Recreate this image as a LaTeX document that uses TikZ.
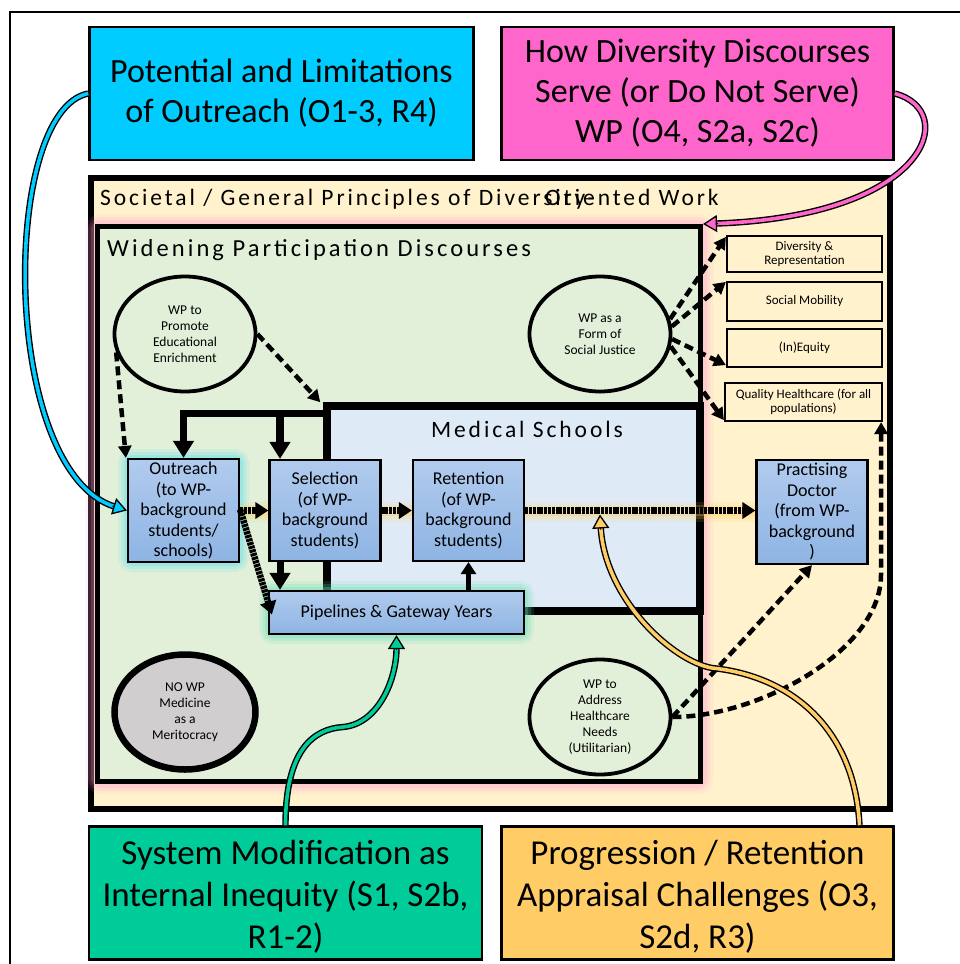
\documentclass[tikz,border=0pt]{standalone}
\usepackage{fontspec}
\setmainfont{Carlito}
\newfontfamily\spacedfont[LetterSpace=12.5]{Carlito}
\usetikzlibrary{arrows.meta,shapes.geometric,calc}

\definecolor{cyanbox}{HTML}{00CCFF}
\definecolor{pinkbox}{HTML}{FF66CC}
\definecolor{tealbox}{HTML}{00CC99}
\definecolor{amberbox}{HTML}{FFCC66}
\definecolor{beige}{HTML}{FFF2CC}
\definecolor{sage}{HTML}{E2F0D9}
\definecolor{skyfill}{HTML}{DEEBF7}
\definecolor{greyfill}{HTML}{D0CECE}
\definecolor{procTop}{HTML}{B1CBEE}
\definecolor{procBot}{HTML}{8EB4E3}
\definecolor{glowCyan}{HTML}{55DDEE}
\definecolor{glowTeal}{HTML}{66DDB5}
\definecolor{glowAmber}{HTML}{FFCC55}
\definecolor{glowPink}{HTML}{FF99CC}

\tikzset{
  every node/.style={inner sep=0pt},
  topbox/.style={draw=black, line width=2.5pt, minimum width=384pt, minimum height=133pt,
    align=center, font=\fontsize{34}{40}\selectfont},
  botbox/.style={topbox},
  bottext/.style={align=center, font=\fontsize{35}{42}\selectfont},
  procbox/.style={draw=black, line width=2.2pt, top color=procTop, bottom color=procBot,
    minimum width=111pt, minimum height=101pt, align=center, font=\fontsize{18}{20.5}\selectfont},
  aimbox/.style={draw=black, line width=2.2pt, fill=beige, minimum width=155pt,
    align=center, font=\fontsize{13}{14}\selectfont},
  discourse/.style={ellipse, draw=black, line width=3.8pt, fill=sage, minimum width=141pt,
    minimum height=115pt, align=center, font=\fontsize{13.5}{16}\selectfont},
  title/.style={anchor=base west, font=\spacedfont\fontsize{23.5}{28}\selectfont},
  bracket/.style={line width=7.5pt, line join=miter, -{Triangle[length=17pt,width=20pt]}},
  uparrow/.style={line width=4.5pt, -{Triangle[length=12pt,width=15pt]}},
  flow/.style={line width=6.5pt, dash pattern=on 3pt off 0.8pt, -{Triangle[length=13pt,width=16pt]}},
  wp/.style={line width=4.5pt, dash pattern=on 9pt off 5pt, -{Triangle[length=12pt,width=13pt]}},
  dbl/.style={line width=1.4pt, draw=black, double=#1, double distance=3.6pt, shorten >=13pt},
  dbltip/.style={line width=1.3pt, draw=black, -{Triangle[length=14pt,width=17pt,fill=#1]}},
}

\begin{document}
\begin{tikzpicture}[x=1pt,y=-1pt]
\useasboundingbox (0,0) rectangle (960,964);
\fill[white] (0,0) rectangle (960,964);
\draw[line width=1.5pt] (10,964) -- (10,12) -- (960,12);

% headline themes
\node[topbox, fill=cyanbox] (cyanb) at (281.5,93.5) {Potential and Limitations\\of Outreach (O1-3, R4)};
\node[topbox, fill=pinkbox, minimum width=392pt] (pinkb) at (697.5,93.5) {How Diversity Discourses\\Serve (or Do Not Serve)\\WP (O4, S2a, S2c)};
\node[botbox, fill=tealbox, minimum width=393pt] (sysmod) at (285.5,893) {};
\node[bottext] (sysmodtext) at ([yshift=-4pt]sysmod.center) {System Modification as\\Internal Inequity (S1, S2b,\\R1-2)};
\node[botbox, fill=amberbox, minimum width=392pt] (progress) at (697.5,893) {};
\node[bottext] (progresstext) at ([yshift=-4pt]progress.center) {Progression / Retention\\Appraisal Challenges (O3,\\S2d, R3)};

% societal frame
\node[draw=black, line width=6pt, fill=beige, minimum width=799pt, minimum height=631pt] (society) at (490.5,493.5) {};

% pink glow round the WP frame
\foreach \w/\o in {20/0.10, 14/0.15, 8/0.22}
  \draw[glowPink, line width=\w pt, opacity=\o, rounded corners=6pt] (95,224) rectangle (703,784);
\node[draw=black, line width=5pt, fill=sage, minimum width=603pt, minimum height=555pt] (wpframe) at (399,504) {};

% medical schools
\node[draw=black, line width=7.5pt, fill=skyfill, minimum width=373pt, minimum height=205pt] (medical) at (513.5,508.5) {};

% titles
\node[title] (soctitle) at (100,205) {Societal / General Principles of Diversity-};
\node[title] (soctitleb) at (545,205) {Oriented Work};
\node[title, font=\spacedfont\fontsize{24.5}{28}\selectfont] (wptitle) at (107,256) {Widening Participation Discourses};
\node[title, anchor=base] (medtitle) at (527,437) {Medical Schools};

% discourses
\node[discourse] (enrich) at (185,334) {WP to\\Promote\\Educational\\Enrichment};
\node[discourse] (social) at (600,334) {WP as a\\Form of\\Social Justice};
\node[discourse, fill=greyfill, line width=6.5pt] (merit) at (185,712) {NO WP\\Medicine\\as a\\Meritocracy};
\node[discourse] (health) at (600,717) {WP to\\Address\\Healthcare\\Needs\\(Utilitarian)};

% aims
\node[aimbox, minimum height=36pt] (divrep) at (804.5,254) {Diversity \&\\Representation};
\node[aimbox, minimum height=39pt] (socmob) at (804.5,301.5) {Social Mobility};
\node[aimbox, minimum height=38pt] (inequity) at (804.5,348) {(In)Equity};
\node[aimbox, minimum height=38pt, minimum width=157pt] (quality) at (803.5,402) {Quality Healthcare (for all\\populations)};

% glows behind the stages
\foreach \w/\o in {18/0.12, 12/0.18, 6/0.28}
  \draw[glowCyan, line width=\w pt, opacity=\o, rounded corners=5pt] (127,458) rectangle (240,563);
\foreach \w/\o in {18/0.14, 12/0.2, 6/0.3}
  \draw[glowTeal, line width=\w pt, opacity=\o, rounded corners=5pt] (268,590) rectangle (525,635);
\foreach \w/\o in {20/0.12, 14/0.18, 8/0.25}{
  \draw[glowAmber, line width=\w pt, opacity=\o] (240,512) -- (268,512);
  \draw[glowAmber, line width=\w pt, opacity=\o] (382,512) -- (412,512);
  \draw[glowAmber, line width=\w pt, opacity=\o] (525,512) -- (756,512);
}

% stages
\node[procbox, minimum height=103pt] (outreach) at (183.5,510.5) {Outreach\\(to WP-\\background\\students/\\schools)};
\node[procbox] (selection) at (325,510.5) {Selection\\(of WP-\\background\\students)};
\node[procbox] (retention) at (468.5,510.5) {Retention\\(of WP-\\background\\students)};
\node[procbox, minimum width=255pt, minimum height=43pt] (pipelines) at (396.5,612.5) {Pipelines \& Gateway Years};
\node[procbox, minimum height=104pt] (doctor) at (812,512) {Practising\\Doctor\\(from WP-\\background\\)};

% medical schools feeding outreach and selection
\draw[bracket] ([yshift=-11pt]medical.north west) -| (outreach.north);
\coordinate (selTop) at ([xshift=-45pt]selection.north);
\coordinate (selBot) at ([xshift=-45pt]selection.south);
\draw[bracket] ([yshift=44pt]selTop) -- (selTop);
\draw[bracket, line width=7pt] (selBot) -- (selBot |- pipelines.north);
\draw[uparrow] (retention.south |- pipelines.north) -- (retention.south);

% progression along the stages
\draw[flow] (outreach.east) -- (selection.west);
\draw[flow] (selection.east) -- (retention.west);
\draw[flow] (retention.east) -- (retention.east -| doctor.west);
\draw[flow] ([yshift=1pt]outreach.east) -- ([xshift=4pt,yshift=-2pt]pipelines.west);

% discourse influences
\draw[wp] (enrich.195) -- ([xshift=-1pt]outreach.north west);
\draw[wp] (enrich.east) -- ([xshift=-3pt]medical.north west);
\draw[wp] (social.12) -- ([yshift=-2pt]divrep.north west);
\draw[wp] (social.6) -- ([yshift=-1pt]socmob.north west);
\draw[wp] (social.-4) -- ([yshift=3pt]inequity.south west);
\draw[wp] (social.-10) -- ([yshift=2pt]quality.south west);
\draw[wp] (health.east) -- (doctor.south);
\coordinate (hbend) at (881,575);
\draw[wp] (health.east) .. controls +(87,0) and +(0,75) .. (hbend) -- ([xshift=-2pt]quality.south east);

% theme links
\draw[dbl=cyanbox] (cyanb.west) .. controls +(-88,17) and +(-127,-40) .. (outreach.west);
\draw[dbltip=cyanbox] ($(outreach.west)+(-14.3,-4.5)$) -- (outreach.west);

\draw[dbl=pinkbox] (pinkb.east) .. controls +(65,17) and +(227,-8) .. (wpframe.north east);
\draw[dbltip=pinkbox] ($(wpframe.north east)+(15,-0.5)$) -- (wpframe.north east);

\coordinate (gbend) at (343,727);
\draw[dbl=tealbox] (sysmod.north) .. controls +(0,-75) and +(-30,2) .. (gbend) .. controls +(35,-3) and +(0,45) .. (pipelines.south);
\draw[dbltip=tealbox] ($(pipelines.south)+(0,15)$) -- (pipelines.south);

\coordinate (abend) at (712,668);
\coordinate (amid) at ($(retention.east)!0.325!(doctor.west)$);
\coordinate (atip) at ([yshift=-3.5pt]amid);
\draw[dbl=amberbox] ([xshift=162pt]progress.north) .. controls +(-5,-96) and +(80,8) .. (abend) .. controls +(-40,-7) and +(5,84) .. (atip);
\draw[dbltip=amberbox] ($(atip)+(0.9,15)$) -- (atip);
\end{tikzpicture}
\end{document}
